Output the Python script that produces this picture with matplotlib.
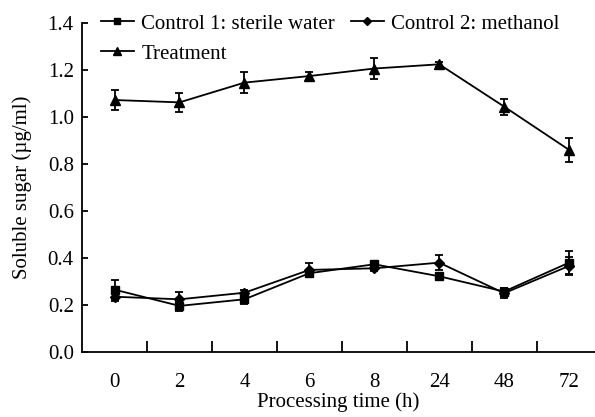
import matplotlib
matplotlib.use("Agg")
import matplotlib.pyplot as plt
from matplotlib.lines import Line2D
import numpy as np

categories = ["0", "2", "4", "6", "8", "24", "48", "72"]
control1 = [0.265, 0.196, 0.224, 0.335, 0.373, 0.322, 0.257, 0.380]
control1_err = [0.040, 0.020, 0.020, 0.015, 0.010, 0.010, 0.015, 0.050]
control2 = [0.235, 0.224, 0.252, 0.349, 0.356, 0.380, 0.250, 0.366]
control2_err = [0.020, 0.030, 0.010, 0.030, 0.010, 0.033, 0.020, 0.040]
treatment = [1.072, 1.062, 1.146, 1.174, 1.206, 1.224, 1.044, 0.860]
treatment_err = [0.044, 0.040, 0.046, 0.018, 0.044, 0.010, 0.034, 0.050]

plt.rcParams['font.family'] = ['Liberation Serif', 'DejaVu Serif']

fig = plt.figure(figsize=(5.95, 4.17), dpi=100)
ax = fig.add_axes([0.138, 0.156, 0.862, 0.789])

x = np.arange(len(categories))
common = dict(color='black', lw=1.3, capsize=3, elinewidth=1.3, capthick=1.3)
ax.errorbar(x, control1, yerr=control1_err, marker='s', ms=5.5, **common)
ax.errorbar(x, control2, yerr=control2_err, marker='D', ms=5, **common)
ax.errorbar(x, treatment, yerr=treatment_err, marker='^', ms=7.5, **common)

ax.set_xlim(-0.5, 7.4)
ax.set_ylim(0, 1.4)
ax.set_yticks(np.arange(0, 1.41, 0.2))
ax.set_yticklabels([f"{v:.1f}" for v in np.arange(0, 1.41, 0.2)])
ax.set_xticks(x)
ax.set_xticklabels(categories)
ax.set_xticks(np.arange(0.5, 7, 1), minor=True)
ax.tick_params(axis='x', which='major', length=0, pad=15, labelsize=15)
ax.tick_params(axis='x', which='minor', direction='in', length=8, width=1.3)
ax.tick_params(axis='y', direction='in', length=4, width=1.3, labelsize=15, pad=6)

for s in ['top', 'right']:
    ax.spines[s].set_visible(False)
for s in ['left', 'bottom']:
    ax.spines[s].set_linewidth(1.3)

ax.set_ylabel("Soluble sugar (µg/ml)", fontsize=15, labelpad=11)
ax.set_xlabel("Processing time (h)", fontsize=15, labelpad=0)

lh1 = Line2D([], [], color='black', lw=1.3, marker='s', ms=4.5)
lh2 = Line2D([], [], color='black', lw=1.3, marker='D', ms=4.5)
lh3 = Line2D([], [], color='black', lw=1.3, marker='^', ms=6)
ax.legend([lh1, lh3, lh2],
          ["Control 1: sterile water", "Treatment", "Control 2: methanol"],
          ncol=2, loc='upper left', bbox_to_anchor=(0.012, 1.065),
          frameon=False, fontsize=15, handlelength=1.6,
          handletextpad=0.35, columnspacing=0.75, labelspacing=0.5,
          borderaxespad=0.2)

fig.savefig("out.png", dpi=100)
